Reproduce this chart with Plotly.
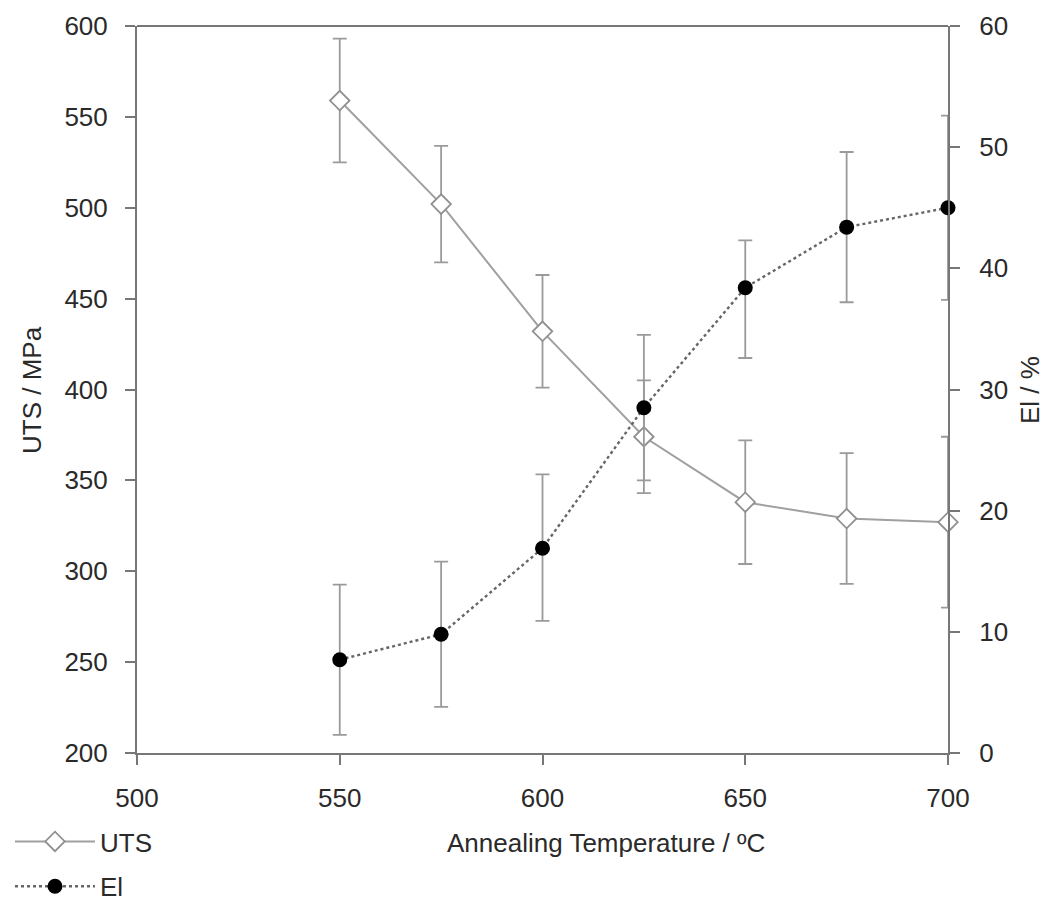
import plotly.graph_objects as go

temps = [550, 575, 600, 625, 650, 675, 700]
uts = [559, 502, 432, 374, 338, 329, 327]
uts_err = [34, 32, 31, 31, 34, 36, 47]
el = [7.7, 9.8, 16.9, 28.5, 38.4, 43.4, 45.0]
el_err_plus = [6.2, 6.0, 6.1, 6.0, 3.9, 6.2, 7.6]
el_err_minus = [6.2, 6.0, 6.0, 6.0, 5.8, 6.2, 7.6]

x_ticks = [500, 550, 600, 650, 700]
uts_ticks = [200, 250, 300, 350, 400, 450, 500, 550, 600]
el_ticks = [0, 10, 20, 30, 40, 50, 60]

FONT = "Liberation Sans, Arial, sans-serif"
FS = 26
TXT = "#2a2a2a"
AX = "#777777"

L, R, T, B = 137, 98, 26, 156
PW, PH = 1046 - L - R, 909 - T - B


def px(x):
    return (x - L) / PW


def py(y):
    return (909 - B - y) / PH


fig = go.Figure()
fig.add_trace(go.Scatter(
    x=temps, y=uts, name="UTS", mode="lines+markers", legendgroup="uts",
    line=dict(color="#a0a0a0", width=2),
    marker=dict(symbol="diamond", size=15, color="white",
                line=dict(color="#909090", width=1.8)),
    error_y=dict(type="data", array=uts_err, color="#9a9a9a",
                 thickness=1.8, width=7),
    cliponaxis=False,
))
fig.add_trace(go.Scatter(
    x=temps, y=el, name="El", mode="lines+markers", yaxis="y2",
    legendgroup="el",
    line=dict(color="#666666", width=2.4, dash="dot"),
    marker=dict(symbol="circle", size=15, color="black"),
    error_y=dict(type="data", symmetric=False, array=el_err_plus,
                 arrayminus=el_err_minus, color="#9a9a9a",
                 thickness=1.8, width=7),
    cliponaxis=False,
))

axis_common = dict(
    showgrid=False, zeroline=False, showline=True, linecolor=AX,
    linewidth=2, ticks="outside", ticklen=10, tickwidth=1.5, tickcolor=AX,
    tickfont=dict(family=FONT, size=FS, color=TXT), automargin=False,
)

fig.update_layout(
    width=1046, height=909,
    margin=dict(l=L, r=R, t=T, b=B, autoexpand=False),
    paper_bgcolor="white", plot_bgcolor="white",
    font=dict(family=FONT, size=FS, color=TXT),
    xaxis=dict(range=[500, 700], tickvals=x_ticks, ticklabelstandoff=11,
               **axis_common),
    yaxis=dict(range=[200, 600], tickvals=uts_ticks, ticklabelstandoff=12,
               **axis_common),
    yaxis2=dict(range=[0, 60], tickvals=el_ticks, overlaying="y",
                side="right", ticklabelstandoff=14, **axis_common),
    annotations=[
        dict(text="Annealing Temperature / \u00baC", xref="paper", yref="paper",
             x=px(606), y=py(843), xanchor="center",
             yanchor="middle", showarrow=False,
             font=dict(family=FONT, size=FS, color=TXT)),
        dict(text="UTS / MPa", xref="paper", yref="paper",
             x=px(32), y=py(390), xanchor="center",
             yanchor="middle", textangle=-90, showarrow=False,
             font=dict(family=FONT, size=FS, color=TXT)),
        dict(text="El / %", xref="paper", yref="paper",
             x=px(1030), y=py(390), xanchor="center",
             yanchor="middle", textangle=-90, showarrow=False,
             font=dict(family=FONT, size=FS, color=TXT)),
    ],
    showlegend=True,
    legend=dict(x=px(10), y=py(818), xanchor="left", yanchor="top",
                orientation="v", bgcolor="rgba(0,0,0,0)",
                font=dict(family=FONT, size=FS, color=TXT),
                itemwidth=80, tracegroupgap=8),
    shapes=[dict(type="line", xref="paper", yref="paper", x0=0, x1=1,
                 y0=1, y1=1, line=dict(color=AX, width=2))],
)

fig.write_html("out.html")
